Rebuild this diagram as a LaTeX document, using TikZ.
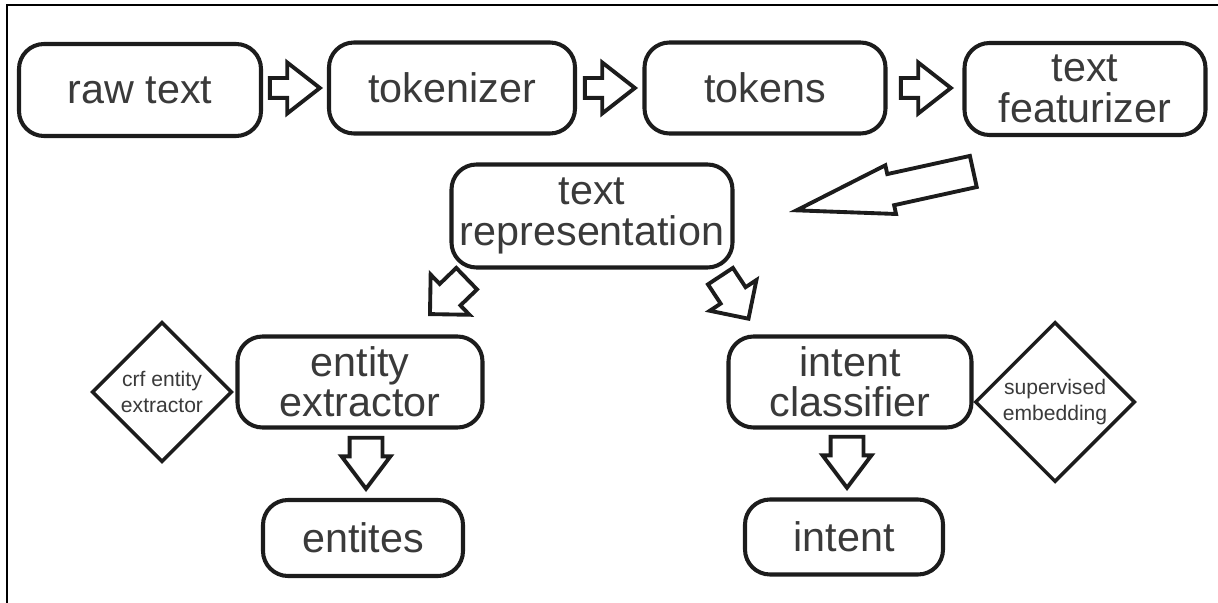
\documentclass[tikz,border=0pt]{standalone}
\usepackage{fontspec}
\setmainfont{Liberation Sans}
\usetikzlibrary{shapes.geometric,shapes.arrows}
\definecolor{txt}{HTML}{3A3A3A}
\definecolor{ln}{HTML}{1C1C1C}
\tikzset{
  blk/.style={draw=ln, line width=2.3pt, rounded corners=0.5cm, align=center,
    text=txt, inner sep=0pt, font=\fontsize{23.5}{23}\selectfont},
  dia/.style={draw=ln, line width=2pt, diamond, align=center, text=txt,
    inner sep=0pt, font=\fontsize{12}{15}\selectfont},
  arr/.style={draw=ln, line width=2.2pt, single arrow, inner xsep=0pt, anchor=tip},
  harr/.style={arr, minimum height=1.0cm, inner ysep=0.16cm,
    single arrow head extend=0.31cm, single arrow tip angle=76},
  varr/.style={arr, minimum height=1.02cm, inner ysep=0.29cm,
    single arrow head extend=0.16cm, single arrow tip angle=74},
  darr/.style={arr, minimum height=1.02cm, inner ysep=0.26cm,
    single arrow head extend=0.26cm, single arrow tip angle=90}
}
\begin{document}
\begin{tikzpicture}[x=0.2mm, y=-0.2mm]
    \useasboundingbox (0,0) rectangle (1218,603);
    \draw[line width=1.4pt] (7,603) -- (7,5) -- (1218,5);
    % top row
    \node[blk, minimum width=4.84cm, minimum height=1.84cm] (raw) at (140,90) {raw text};
    \node[blk, minimum width=4.92cm, minimum height=1.82cm] (tok) at (452,88) {tokenizer};
    \node[blk, minimum width=4.82cm, minimum height=1.82cm] (toks) at (765,88) {tokens};
    \node[blk, minimum width=4.82cm, minimum height=1.84cm] (feat) at (1085,89) {text\\featurizer};
    \node[harr] (a1) at (323,88) {};
    \node[harr] (a2) at (638,88) {};
    \node[harr] (a3) at (954,88) {};
    % middle
    \node[blk, minimum width=5.62cm, minimum height=2.06cm] (repr) at (592,216) {text\\representation};
    \node[arr, rotate=-167.6, minimum height=3.62cm, inner ysep=0.28cm,
      single arrow head extend=0.18cm, single arrow tip angle=29] (a4) at (789,212) {};
    \node[darr, rotate=-136] (a5) at (428,316) {};
    \node[darr, rotate=-56.6] (a6) at (750,321) {};
    % entity branch
    \node[blk, minimum width=4.9cm, minimum height=1.82cm] (ent) at (360,382) {entity\\extractor};
    \node[dia, minimum width=2.8cm, minimum height=2.8cm] (crf) at (162,392) {crf entity\\extractor};
    \node[varr, rotate=-90] (a7) at (366,492) {};
    \node[blk, minimum width=4.0cm, minimum height=1.52cm] (ents) at (363,538) {entites};
    % intent branch
    \node[blk, minimum width=4.86cm, minimum height=1.82cm] (intc) at (850,382) {intent\\classifier};
    \node[dia, minimum width=3.2cm, minimum height=3.2cm] (sup) at (1055,402) {supervised\\embedding};
    \node[varr, rotate=-90] (a8) at (847,491) {};
    \node[blk, minimum width=3.96cm, minimum height=1.5cm] (int) at (844,537) {intent};
\end{tikzpicture}
\end{document}
